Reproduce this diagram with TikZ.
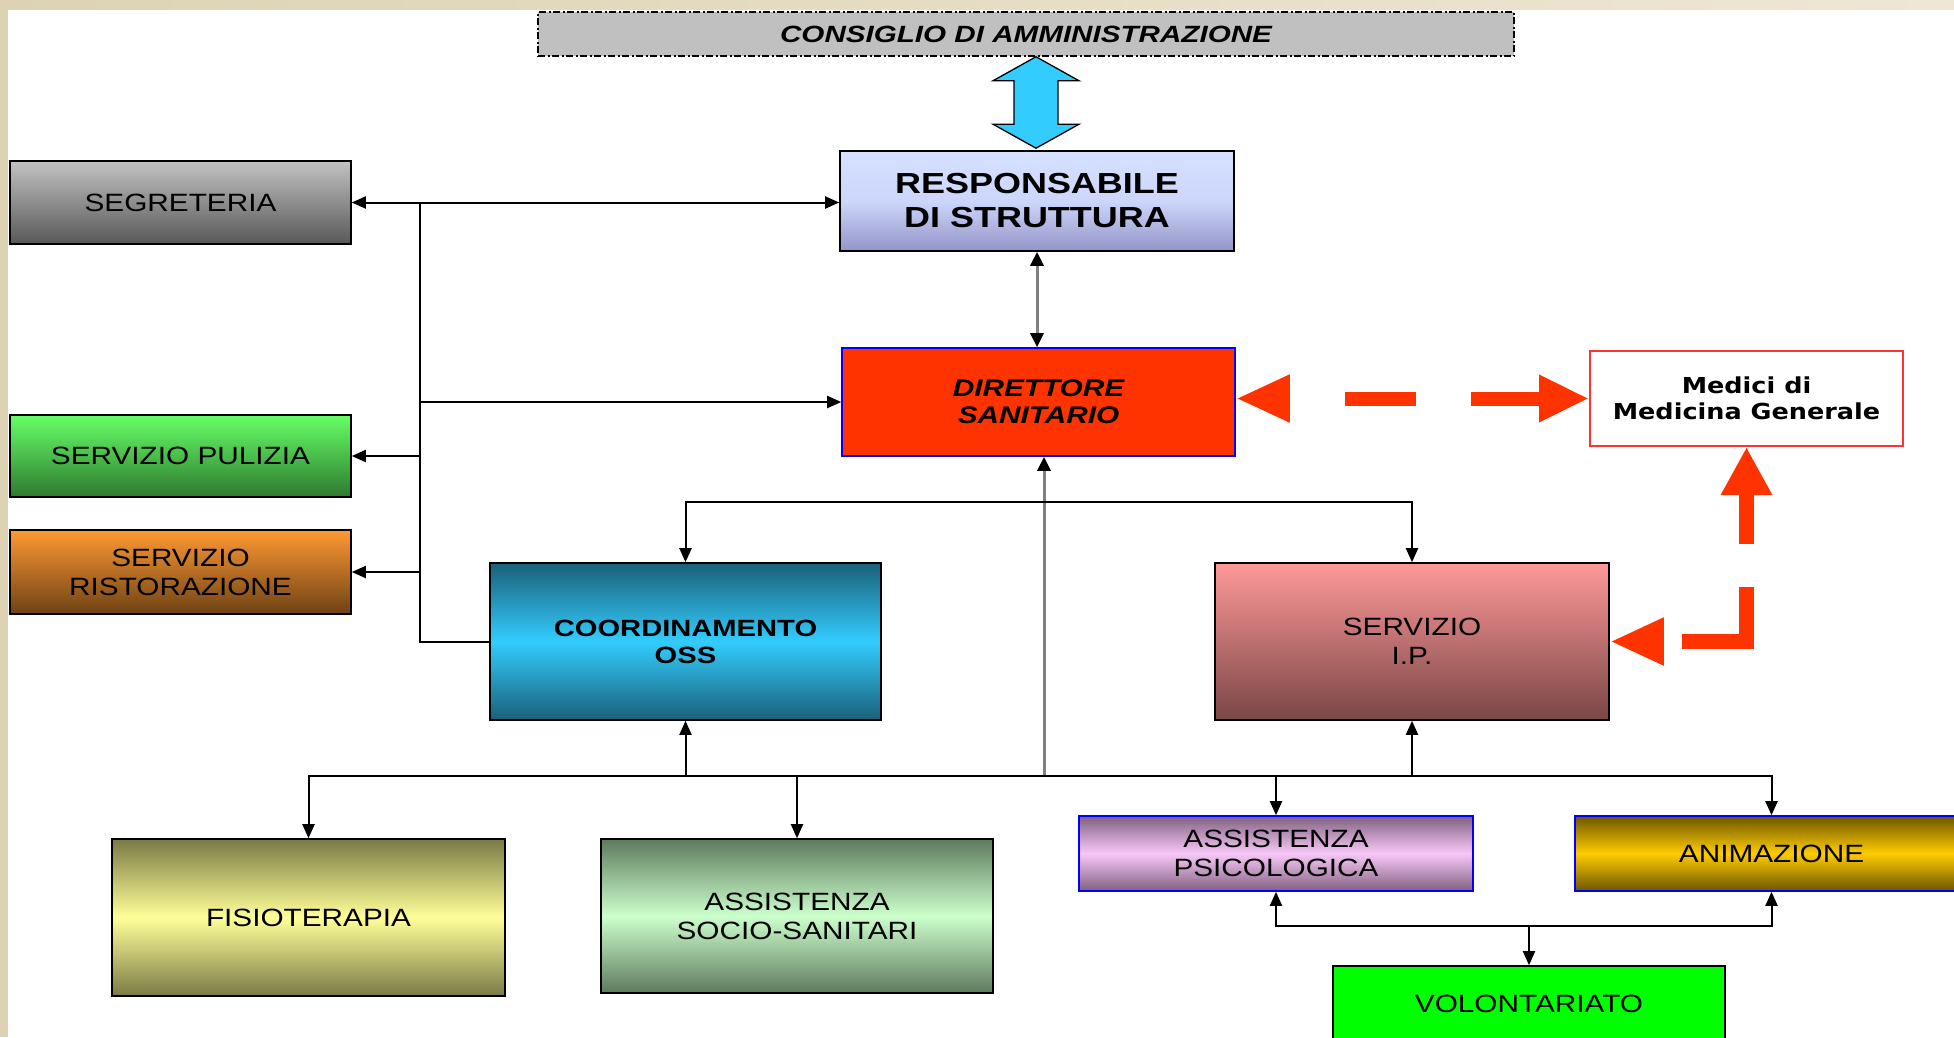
\documentclass[tikz,border=0pt]{standalone}
\usepackage{fontspec}
\setmainfont{Liberation Sans}
\newfontfamily\fReg[FakeStretch=1.19]{Liberation Sans}
\newfontfamily\fResp[FakeStretch=1.24]{Liberation Sans}
\newfontfamily\fDir[FakeStretch=1.24]{Liberation Sans}
\newfontfamily\fCons[FakeStretch=1.26]{Liberation Sans}
\newfontfamily\fMed[FakeStretch=1.16]{DejaVu Sans}
\usetikzlibrary{arrows.meta,calc}
\definecolor{beigeL}{HTML}{DDD3B4}
\definecolor{beigeR}{HTML}{EEE7D3}
\definecolor{consgray}{HTML}{C0C0C0}
\definecolor{cyanA}{HTML}{33CCFF}
\definecolor{respT}{HTML}{D6E0FF}
\definecolor{respM}{HTML}{CCD6FA}
\definecolor{respB}{HTML}{9494C8}
\definecolor{dirR}{HTML}{FF3300}
\definecolor{bordB}{HTML}{0000FF}
\definecolor{medR}{HTML}{FF3333}
\definecolor{segT}{HTML}{C2C2C2}
\definecolor{segB}{HTML}{585858}
\definecolor{pulT}{HTML}{66FF66}
\definecolor{pulB}{HTML}{2E7A30}
\definecolor{risT}{HTML}{FF9933}
\definecolor{risB}{HTML}{6E4214}
\definecolor{coordE}{HTML}{1A6078}
\definecolor{coordM}{HTML}{33CCFF}
\definecolor{ipT}{HTML}{FF9999}
\definecolor{ipB}{HTML}{7A4646}
\definecolor{fisE}{HTML}{7A7A45}
\definecolor{fisM}{HTML}{FFFF99}
\definecolor{socE}{HTML}{5E7A5E}
\definecolor{socM}{HTML}{CCFFCC}
\definecolor{psiE}{HTML}{806080}
\definecolor{psiM}{HTML}{F8C8F8}
\definecolor{aniE}{HTML}{6B5500}
\definecolor{aniM}{HTML}{FFCC00}
\definecolor{volG}{HTML}{00FF00}
\definecolor{grayline}{HTML}{808080}
\begin{document}
\begin{tikzpicture}[x=1pt,y=-1pt,
  box/.style={draw=black, line width=1.6pt, inner sep=0pt, align=center},
  lbl/.style={font=\fReg\fontsize{25}{29}\selectfont},
  conn/.style={draw=black, line width=2pt, >={Triangle[length=14pt,width=12pt]}},
  gconn/.style={draw=grayline, line width=3pt, >={Triangle[length=14pt,width=13pt,color=black]}},
  redarr/.style={draw=dirR, line width=14pt, line cap=butt, line join=miter}
]
\useasboundingbox (0,0) rectangle (1954,1037);
\fill[white] (0,0) rectangle (1954,1037);
\shade[left color=beigeL, right color=beigeR] (0,0) rectangle (1954,9);
\fill[beigeL] (0,0) rectangle (8,1037);

% nodes
\node[box, fill=consgray, dash pattern=on 7pt off 2.5pt on 2pt off 2.5pt, line width=1.5pt,
  minimum width=976pt, minimum height=44pt,
  font=\fCons\bfseries\itshape\fontsize{23.5}{27}\selectfont] (cons) at (1026,34) {CONSIGLIO DI AMMINISTRAZIONE};
\node[box, top color=respT, bottom color=respB, middle color=respM, minimum width=394pt, minimum height=100pt,
  font=\fResp\bfseries\fontsize{29}{34}\selectfont] (resp) at (1037,201) {RESPONSABILE\\DI STRUTTURA};
\node[box, fill=dirR, draw=bordB, minimum width=393pt, minimum height=108pt,
  font=\fDir\bfseries\itshape\fontsize{24}{27}\selectfont] (dir) at (1038.5,402) {DIRETTORE\\SANITARIO};
\node[box, fill=white, draw=medR, line width=2pt, minimum width=313pt, minimum height=95pt,
  font=\fMed\bfseries\fontsize{22}{26}\selectfont] (med) at (1746.5,398.5) {Medici di\\Medicina Generale};
\node[box, lbl, top color=segT, bottom color=segB, minimum width=341pt, minimum height=83pt] (seg) at (180.5,202.5) {SEGRETERIA};
\node[box, lbl, top color=pulT, bottom color=pulB, minimum width=341pt, minimum height=82pt] (pul) at (180.5,456) {SERVIZIO PULIZIA};
\node[box, lbl, top color=risT, bottom color=risB, minimum width=341pt, minimum height=84pt] (ris) at (180.5,572) {SERVIZIO\\RISTORAZIONE};
\node[box, top color=coordE, bottom color=coordE, middle color=coordM, minimum width=391pt, minimum height=157pt,
  font=\fDir\bfseries\fontsize{23.5}{27}\selectfont] (coord) at (685.5,641.5) {COORDINAMENTO\\OSS};
\node[box, lbl, top color=ipT, bottom color=ipB, minimum width=394pt, minimum height=157pt] (ip) at (1412,641.5) {SERVIZIO\\I.P.};
\node[box, lbl, top color=fisE, bottom color=fisE, middle color=fisM, minimum width=393pt, minimum height=157pt] (fis) at (308.5,917.5) {FISIOTERAPIA};
\node[box, lbl, top color=socE, bottom color=socE, middle color=socM, minimum width=392pt, minimum height=154pt] (soc) at (797,916) {ASSISTENZA\\SOCIO-SANITARI};
\node[box, lbl, draw=bordB, top color=psiE, bottom color=psiE, middle color=psiM, minimum width=394pt, minimum height=75pt] (psi) at (1276,853.5) {ASSISTENZA\\PSICOLOGICA};
\node[box, lbl, draw=bordB, top color=aniE, bottom color=aniE, middle color=aniM, minimum width=393pt, minimum height=75pt] (ani) at (1771.5,853.5) {ANIMAZIONE};
\node[box, lbl, fill=volG, minimum width=392pt, minimum height=75pt] (vol) at (1529,1003.5) {VOLONTARIATO};

% blue double arrow
\coordinate (bt) at ($(cons.south)+(10,0)$);
\coordinate (bbt) at ($(resp.north)+(-1,-2)$);
\filldraw[fill=cyanA, draw=black, line width=1.3pt]
  (bt) -- ($(bt)+(43,24)$) -- ($(bt)+(22,24)$) -- ($(bbt)+(22,-24)$) -- ($(bbt)+(43,-24)$)
  -- (bbt) -- ($(bbt)+(-43,-24)$) -- ($(bbt)+(-22,-24)$) -- ($(bt)+(-22,24)$) -- ($(bt)+(-43,24)$) -- cycle;

% left bus
\coordinate (bx) at (420,0);
\draw[conn,<->] (seg.east) -- (resp.west |- seg.east);
\draw[conn] (bx |- seg.east) -- (bx |- coord.west) -- (coord.west);
\draw[conn,->] (bx |- dir.west) -- (dir.west);
\draw[conn,->] (bx |- pul.east) -- (pul.east);
\draw[conn,->] (bx |- ris.east) -- (ris.east);

% responsabile - direttore
\draw[gconn,<->] (resp.south) -- (resp.south |- dir.north);

% lower buses
\coordinate (bb) at (0,776);
\coordinate (gv) at (1044,776);
\coordinate (br) at (1044,502);
\draw[gconn,->] (gv) -- (gv |- dir.south);
\draw[conn,<->] (coord.north) |- (br) -| (ip.north);
\draw[conn,<->] (fis.north) |- (ani.north |- bb) -- (ani.north);
\draw[conn,->] (soc.north |- bb) -- (soc.north);
\draw[conn,->] (psi.north |- bb) -- (psi.north);
\draw[conn,->] (coord.south |- bb) -- (coord.south);
\draw[conn,->] (ip.south |- bb) -- (ip.south);
\coordinate (bv) at (0,926);
\draw[conn,<->] (psi.south) |- (ani.south |- bv) -- (ani.south);
\draw[conn,->] (vol.north |- bv) -- (vol.north);

% red dashed arrows
\draw[redarr, {Triangle[length=54pt,width=44pt]}-{Triangle[length=50pt,width=44pt]},
  dash pattern=on 0pt off 59pt on 71pt off 55pt on 80pt off 10pt]
  (dir.east |- med.west) -- (med.west);
\draw[redarr, line width=15pt, {Triangle[length=54pt,width=44pt]}-{Triangle[length=48pt,width=48pt]},
  dash pattern=on 0pt off 22pt on 119pt off 43pt on 70pt off 10pt]
  (ip.east) -| (med.south);
\end{tikzpicture}
\end{document}
